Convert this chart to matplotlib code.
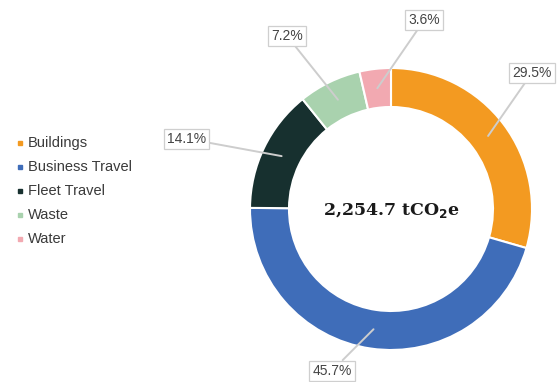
import numpy as np
import matplotlib
matplotlib.use("Agg")
import matplotlib.pyplot as plt

categories = ["Buildings", "Business Travel", "Fleet Travel", "Waste", "Water"]
values = [29.5, 45.7, 14.1, 7.2, 3.6]
pct_labels = ["29.5%", "45.7%", "14.1%", "7.2%", "3.6%"]
colors = ["#F39A21", "#3F6DB9", "#17302F", "#A9D2AE", "#F2A9B1"]
center_text = "2,254.7 tCO$_\\mathbf{2}$e"

W, H = 557, 382
fig = plt.figure(figsize=(W / 100, H / 100), dpi=100)
ax = fig.add_axes([0, 0, 1, 1])

cx, cy = 391, H - 209
R = 141
ring = 39

wedges, _ = ax.pie(values, colors=colors, startangle=90, counterclock=False,
                   radius=R, center=(cx, cy), frame=True,
                   wedgeprops=dict(width=ring, edgecolor="white", linewidth=1.5))
ax.set_xlim(0, W)
ax.set_ylim(0, H)
ax.set_aspect("equal")
ax.axis("off")

# label box placement (angle from top clockwise in degrees, radius in px)
label_pos = [(46, 196), (200, 172), (289, 216), (329, 202), (10, 192)]
for w, lab, (ang, rr) in zip(wedges, pct_labels, label_pos):
    mid = np.deg2rad((w.theta1 + w.theta2) / 2)
    rm = R - ring / 2
    ax_x = cx + rm * np.cos(mid)
    ax_y = cy + rm * np.sin(mid)
    a = np.deg2rad(90 - ang)
    tx = cx + rr * np.cos(a)
    ty = cy + rr * np.sin(a)
    ax.annotate(lab, xy=(ax_x, ax_y), xytext=(tx, ty), ha="center", va="center",
                fontsize=10, family="Liberation Sans", color="#444444",
                bbox=dict(boxstyle="square,pad=0.22", fc="white", ec="#cfcfcf", lw=0.9),
                arrowprops=dict(arrowstyle="-", color="#cdcdcd", lw=1.4,
                                shrinkA=0, shrinkB=0))

ax.text(cx, cy - 2, center_text, ha="center", va="center", fontsize=12.5,
        fontweight="bold", family="DejaVu Serif", color="#1a1a1a")

# legend
for i, (name, c) in enumerate(zip(categories, colors)):
    y = H - (143 + i * 24)
    ax.plot([20], [y], marker="s", ms=3.2, color=c, linestyle="none")
    ax.text(28, y, name, ha="left", va="center", fontsize=10.5,
            family="Liberation Sans", color="#3a3a3a")

fig.savefig("out.png", dpi=100, facecolor="white")
